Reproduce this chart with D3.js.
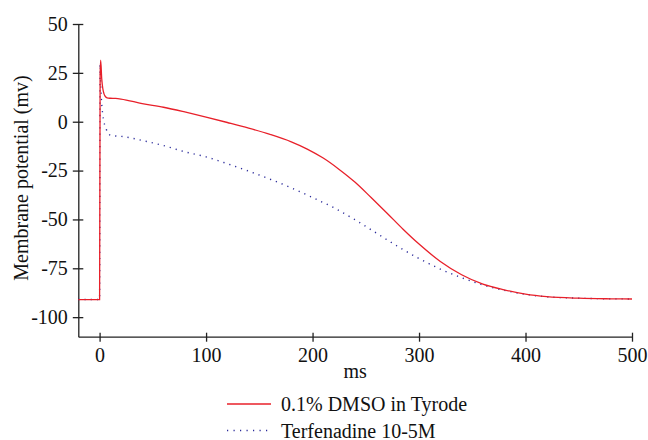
<!DOCTYPE html>
<html>
<head>
<meta charset="utf-8">
<script src="https://cdn.jsdelivr.net/npm/d3@7"></script>
<style>
  svg text { font-family: 'Liberation Serif' !important; }
</style>
</head>
<body style="margin:0">
<script>
// time (ms) and membrane potential (mV)
var timeDmso = [-20, 0, 0.5, 1, 2, 3, 4, 5, 7, 10, 15, 20, 40, 60, 80, 100, 120, 140, 160, 180,
                195, 210, 225, 240, 255, 270, 285, 300, 320, 340, 360, 380, 400, 420, 450, 480, 500];
var vDmso = [-91, -91, 24, 31.5, 22, 17, 14.5, 13.2, 12.2, 12, 11.9, 11.6, 9.3, 7.4, 5.0, 2.4, -0.4, -3.3, -6.5, -10.3,
             -14, -18.6, -24.4, -31.0, -38.8, -46.8, -55, -62.6, -71.5, -78.3, -83.1, -86, -88.2, -89.5, -90.3, -90.6, -90.7];

var timeTerf = [-20, 0, 0.5, 1, 2, 3, 4, 5, 6, 8, 10, 15, 20, 40, 60, 80, 100, 120, 140, 160, 180,
                200, 220, 240, 260, 280, 300, 320, 340, 360, 380, 400, 420, 450, 480, 500];
var vTerf = [-91, -91, 29.5, 20, 9, 3.5, 0, -2, -3.5, -5.8, -6.9, -7.3, -7.5, -9.6, -12.2, -15.4, -18, -21.5, -25.3, -29.4, -33.8,
             -38.8, -44, -50.2, -57, -63.8, -70, -75.4, -79.8, -83.5, -86.3, -88.3, -89.6, -90.3, -90.6, -90.7];

var xTicks = [0, 100, 200, 300, 400, 500];
var yTicks = [50, 25, 0, -25, -50, -75, -100];
var seriesNames = ["0.1% DMSO in Tyrode", "Terfenadine 10-5M"];

var serif = "'Liberation Serif'";
var width = 648, height = 440;

var svg = d3.select("body").append("svg")
    .attr("width", width)
    .attr("height", height);

var x = d3.scaleLinear().domain([-20, 500]).range([78.3, 632]);
var y = d3.scaleLinear().domain([-110, 50]).range([336.7, 24]);

// axes
var yAxis = svg.append("g")
    .attr("transform", "translate(" + x(-20) + ",0)")
    .call(d3.axisLeft(y).tickValues(yTicks).tickSize(5.5).tickSizeOuter(0).tickPadding(5)
        .tickFormat(function(d) { return String(d); }));

var xAxis = svg.append("g")
    .attr("transform", "translate(0," + y(-110) + ")")
    .call(d3.axisBottom(x).tickValues(xTicks).tickSize(5).tickSizeOuter(0).tickPadding(6.5)
        .tickFormat(function(d) { return String(d); }));

[yAxis, xAxis].forEach(function(g) {
    g.attr("font-family", serif).attr("font-size", 20);
    g.selectAll("path.domain").attr("stroke", "#222").attr("stroke-width", 1.3);
    g.selectAll(".tick line").attr("stroke", "#222").attr("stroke-width", 1.3);
    g.selectAll(".tick text")
        .attr("fill", "#111")
        .attr("font-size", 20)
        .style("font-family", serif, "important");
});
// ticks cross the axis line
yAxis.selectAll(".tick line").attr("x1", 5);
xAxis.selectAll(".tick line").attr("y1", -4);

// axis titles
svg.append("text")
    .attr("x", (x(-20) + x(500)) / 2)
    .attr("y", 378)
    .attr("text-anchor", "middle")
    .attr("fill", "#111")
    .attr("font-size", 20)
    .style("font-family", serif, "important")
    .text("ms");

svg.append("text")
    .attr("transform", "translate(28," + 178 + ") rotate(-90)")
    .attr("text-anchor", "middle")
    .attr("fill", "#111")
    .attr("font-size", 20)
    .style("font-family", serif, "important")
    .text("Membrane potential (mv)");

// lines
var line = d3.line()
    .x(function(d) { return x(d[0]); })
    .y(function(d) { return y(d[1]); })
    .curve(d3.curveMonotoneX);

svg.append("path")
    .attr("d", line(d3.zip(timeTerf, vTerf)))
    .attr("fill", "none")
    .attr("stroke", "#2a2a9a")
    .attr("stroke-width", 1.4)
    .attr("stroke-dasharray", "1.2,5");

svg.append("path")
    .attr("d", line(d3.zip(timeDmso, vDmso)))
    .attr("fill", "none")
    .attr("stroke", "#e8202a")
    .attr("stroke-width", 1.3);

// legend
var legend = svg.append("g");
var styles = [
    { stroke: "#e8202a", dash: null, width: 1.3 },
    { stroke: "#2a2a9a", dash: "1.2,5.3", width: 1.4 }
];
seriesNames.forEach(function(name, i) {
    var ly = 404 + i * 26.5;
    legend.append("line")
        .attr("x1", 227).attr("x2", 271)
        .attr("y1", ly).attr("y2", ly)
        .attr("stroke", styles[i].stroke)
        .attr("stroke-width", styles[i].width)
        .attr("stroke-dasharray", styles[i].dash);
    legend.append("text")
        .attr("x", 281)
        .attr("y", ly + 7)
        .attr("fill", "#111")
        .attr("font-size", 20)
        .style("font-family", serif, "important")
        .text(name);
});
</script>
</body>
</html>
